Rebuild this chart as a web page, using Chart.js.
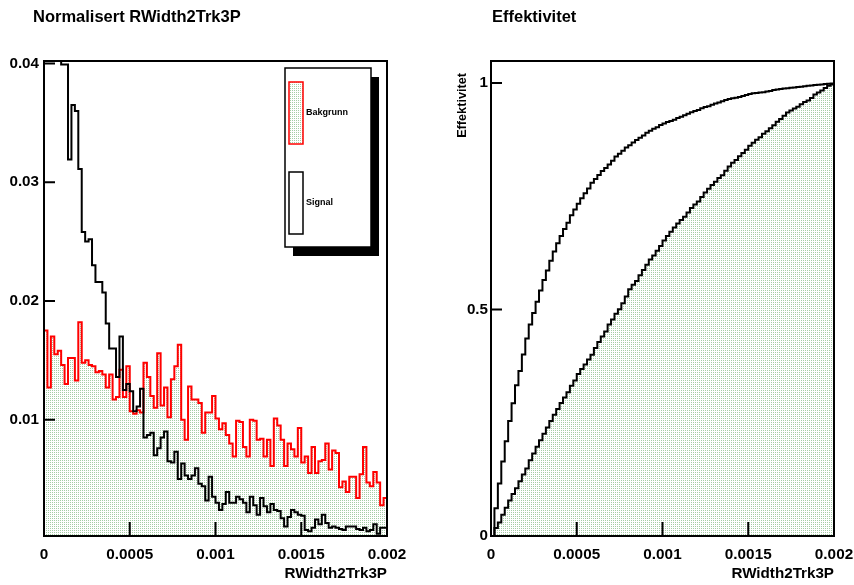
<!DOCTYPE html>
<html>
<head>
<meta charset="utf-8">
<script src="https://cdn.jsdelivr.net/npm/chart.js@4.4.1/dist/chart.umd.min.js"></script>
<style>
  html, body { margin: 0; padding: 0; background: #fff; }
  #wrap { position: relative; width: 854px; height: 585px; }
  .pad { position: absolute; top: 0; width: 427px; height: 585px; }
</style>
</head>
<body>
<div id="wrap">
  <div class="pad" style="left:0"><canvas id="histChart" width="427" height="585"></canvas></div>
  <div class="pad" style="left:427px"><canvas id="effChart" width="427" height="585"></canvas></div>
</div>
<script>
// RWidth2Trk3P, 100 bins from 0 to 0.002 (normalised)
const xMin = 0;
const xMax = 0.002;

const bakgrunn = [
  0.0175, 0.0127, 0.0170, 0.0155, 0.0158, 0.0146, 0.0130, 0.0152, 0.0152, 0.0133,
  0.0182, 0.0148, 0.0150, 0.0146, 0.0145, 0.0140, 0.0141, 0.0138, 0.0127, 0.0138,
  0.0117, 0.0119, 0.0142, 0.0119, 0.0145, 0.0107, 0.0105, 0.0108, 0.0106, 0.0148,
  0.0136, 0.0120, 0.0110, 0.0156, 0.0112, 0.0127, 0.0102, 0.0134, 0.0145, 0.0163,
  0.0100, 0.0083, 0.0128, 0.0117, 0.0117, 0.0114, 0.0089, 0.0106, 0.0106, 0.0120,
  0.0101, 0.0092, 0.0097, 0.0087, 0.0080, 0.0069, 0.0099, 0.0098, 0.0077, 0.0069,
  0.0100, 0.0099, 0.0083, 0.0084, 0.0069, 0.0083, 0.0061, 0.0101, 0.0095, 0.0083,
  0.0061, 0.0080, 0.0075, 0.0069, 0.0093, 0.0064, 0.0069, 0.0055, 0.0077, 0.0055,
  0.0065, 0.0066, 0.0080, 0.0058, 0.0074, 0.0072, 0.0043, 0.0048, 0.0039, 0.0052,
  0.0052, 0.0034, 0.0054, 0.0077, 0.0047, 0.0044, 0.0056, 0.0047, 0.0028, 0.0034
];

const signal = [
  0.0620, 0.0550, 0.0490, 0.0450, 0.0450, 0.0399, 0.0399, 0.0319, 0.0365, 0.0360,
  0.0311, 0.0258, 0.0250, 0.0252, 0.0230, 0.0216, 0.0216, 0.0207, 0.0181, 0.0160,
  0.0160, 0.0136, 0.0170, 0.0125, 0.0130, 0.0124, 0.0107, 0.0111, 0.0126, 0.0085,
  0.0087, 0.0089, 0.0070, 0.0076, 0.0085, 0.0090, 0.0065, 0.0064, 0.0073, 0.0050,
  0.0063, 0.0053, 0.0050, 0.0053, 0.0059, 0.0046, 0.0044, 0.0032, 0.0052, 0.0035,
  0.0030, 0.0024, 0.0029, 0.0039, 0.0030, 0.0030, 0.0035, 0.0033, 0.0030, 0.0022,
  0.0035, 0.0028, 0.0020, 0.0034, 0.0027, 0.0022, 0.0029, 0.0024, 0.0023, 0.0017,
  0.0010, 0.0018, 0.0024, 0.0022, 0.0020, 0.0019, 0.0007, 0.0006, 0.0009, 0.0016,
  0.0012, 0.0020, 0.0013, 0.0009, 0.0010, 0.0009, 0.0008, 0.0007, 0.0010, 0.0010,
  0.0010, 0.0008, 0.0007, 0.0009, 0.0006, 0.0007, 0.0012, 0.0004, 0.0009, 0.0009
];

const xTicks = [0, 0.0005, 0.001, 0.0015, 0.002];
const xTickLabels = ['0', '0.0005', '0.001', '0.0015', '0.002'];
const histYTicks = [0.01, 0.02, 0.03, 0.04];
const histYTickLabels = ['0.01', '0.02', '0.03', '0.04'];
const effYTicks = [0, 0.5, 1];
const effYTickLabels = ['0', '0.5', '1'];

const FONT = '"Liberation Sans", Arial, Helvetica, sans-serif';
Chart.defaults.font.family = FONT;
Chart.defaults.color = '#000';

const binW = (xMax - xMin) / bakgrunn.length;

// histogram outline: one point per lower bin edge, plus closing edge
function histPoints(vals) {
  const pts = vals.map((v, i) => ({ x: xMin + i * binW, y: v }));
  pts.push({ x: xMax, y: vals[vals.length - 1] });
  return pts;
}

// efficiency = fraction of entries below each bin edge
function effPoints(vals) {
  const total = vals.reduce((a, b) => a + b, 0);
  let acc = 0;
  const pts = [];
  vals.forEach((v, i) => {
    pts.push({ x: xMin + i * binW, y: acc / total });
    acc += v;
  });
  pts.push({ x: xMax, y: acc / total });
  return pts;
}

function dotPattern() {
  const c = document.createElement('canvas');
  c.width = 2; c.height = 2;
  const g = c.getContext('2d');
  g.fillStyle = 'rgb(165,205,165)';
  g.fillRect(0, 0, 1, 1);
  return g.createPattern(c, 'repeat');
}
const dots = dotPattern();

// frame box + inward ticks like ROOT
const rootFrame = {
  id: 'rootFrame',
  afterDatasetsDraw(chart, args, opts) {
    const { ctx, chartArea: a, scales } = chart;
    ctx.save();
    ctx.strokeStyle = '#000';
    ctx.lineWidth = 2;
    ctx.beginPath();
    scales.x.ticks.forEach(t => {
      const px = scales.x.getPixelForValue(t.value);
      ctx.moveTo(px, a.bottom);
      ctx.lineTo(px, a.bottom - opts.xTick);
    });
    scales.y.ticks.forEach(t => {
      const py = scales.y.getPixelForValue(t.value);
      ctx.moveTo(a.left, py);
      ctx.lineTo(a.left + opts.yTick, py);
    });
    ctx.stroke();
    ctx.strokeRect(a.left, a.top, a.right - a.left, a.bottom - a.top);
    ctx.restore();
  }
};

// pad title sits at a fixed x, not at the chart's left edge
const titleShift = {
  id: 'titleShift',
  afterLayout(chart, args, o) {
    if (chart.titleBlock) chart.titleBlock.left = o.x;
  }
};

// boxed legend with shadow
const boxLegend = {
  id: 'boxLegend',
  afterDraw(chart, args, o) {
    if (!o.display) return;
    const ctx = chart.ctx;
    ctx.save();
    ctx.fillStyle = '#000';
    ctx.fillRect(o.x + 8, o.y + 9, o.w, o.h);
    ctx.fillStyle = '#fff';
    ctx.fillRect(o.x, o.y, o.w, o.h);
    ctx.lineWidth = 1.5;
    ctx.strokeStyle = '#000';
    ctx.strokeRect(o.x, o.y, o.w, o.h);
    const items = chart.data.datasets.slice().reverse();
    items.forEach((ds, i) => {
      const top = o.y + o.entryTop + i * o.entryStep;
      const left = o.x + 4;
      if (ds.fill) {
        ctx.fillStyle = ds.backgroundColor;
        ctx.fillRect(left, top, o.sw, o.sh);
      }
      ctx.strokeStyle = ds.borderColor;
      ctx.lineWidth = 1.5;
      ctx.strokeRect(left, top, o.sw, o.sh);
      ctx.fillStyle = '#000';
      ctx.font = 'bold 9px ' + FONT;
      ctx.textAlign = 'left';
      ctx.textBaseline = 'middle';
      ctx.fillText(ds.label, left + o.sw + 3, top + o.sh / 2);
    });
    ctx.restore();
  }
};

// rotated y-axis title, right-aligned to the top like ROOT
const yTitle = {
  id: 'yTitle',
  afterDraw(chart, args, o) {
    if (!o.text) return;
    const ctx = chart.ctx;
    ctx.save();
    ctx.translate(o.x, o.y);
    ctx.rotate(-Math.PI / 2);
    ctx.font = 'bold 12.7px ' + FONT;
    ctx.fillStyle = '#000';
    ctx.textAlign = 'right';
    ctx.textBaseline = 'middle';
    ctx.fillText(o.text, 0, 0);
    ctx.restore();
  }
};

function xScale() {
  return {
    type: 'linear',
    min: xMin,
    max: xMax,
    afterBuildTicks: s => { s.ticks = xTicks.map(v => ({ value: v })); },
    afterFit: s => { s.height = 49; s.paddingLeft = 0; s.paddingRight = 0; },
    grid: { display: false, drawTicks: false },
    border: { display: false },
    ticks: {
      callback: (v, i) => xTickLabels[i],
      font: { size: 15.3, weight: 'bold' },
      padding: 10,
      maxRotation: 0,
      autoSkip: false
    },
    title: {
      display: true,
      text: 'RWidth2Trk3P',
      align: 'end',
      font: { size: 15.2, weight: 'bold' },
      padding: { top: 0, bottom: 2 }
    }
  };
}

function yScale(min, max, ticks, labels, width, pad) {
  return {
    type: 'linear',
    min: min,
    max: max,
    afterBuildTicks: s => { s.ticks = ticks.map(v => ({ value: v })); },
    afterFit: s => { s.width = width; s.paddingTop = 0; s.paddingBottom = 0; },
    grid: { display: false, drawTicks: false },
    border: { display: false },
    ticks: {
      callback: (v, i) => labels[i],
      font: { size: 15.2, weight: 'bold' },
      padding: pad,
      autoSkip: false
    }
  };
}

function titleOpts(text) {
  return {
    display: true,
    text: text,
    align: 'start',
    font: { size: 16.5, weight: 'bold' },
    color: '#000',
    padding: { top: 8, bottom: 33.2 }
  };
}

new Chart(document.getElementById('histChart'), {
  type: 'line',
  data: {
    datasets: [{
      label: 'Signal',
      data: histPoints(signal),
      borderColor: '#000',
      borderWidth: 2,
      stepped: 'before',
      pointRadius: 0,
      fill: false
    }, {
      label: 'Bakgrunn',
      data: histPoints(bakgrunn),
      borderColor: '#ff0000',
      backgroundColor: dots,
      borderWidth: 2,
      stepped: 'before',
      pointRadius: 0,
      fill: 'start'
    }]
  },
  options: {
    responsive: false,
    animation: false,
    events: [],
    layout: { padding: { left: 0, right: 40, top: 0, bottom: 0 } },
    scales: {
      x: xScale(),
      y: yScale(0.0002, 0.0402, histYTicks, histYTickLabels, 44, 5)
    },
    plugins: {
      legend: { display: false },
      tooltip: { enabled: false },
      title: titleOpts('Normalisert RWidth2Trk3P'),
      titleShift: { x: 33 },
      rootFrame: { xTick: 14, yTick: 11 },
      boxLegend: { display: true, x: 285, y: 68, w: 86, h: 179, entryTop: 14, entryStep: 90, sw: 14, sh: 62 }
    }
  },
  plugins: [rootFrame, titleShift, boxLegend]
});

new Chart(document.getElementById('effChart'), {
  type: 'line',
  data: {
    datasets: [{
      label: 'Signal',
      data: effPoints(signal),
      borderColor: '#000',
      borderWidth: 2,
      stepped: 'before',
      pointRadius: 0,
      fill: false
    }, {
      label: 'Bakgrunn',
      data: effPoints(bakgrunn),
      borderColor: '#000',
      backgroundColor: dots,
      borderWidth: 2,
      stepped: 'before',
      pointRadius: 0,
      fill: 'start'
    }]
  },
  options: {
    responsive: false,
    animation: false,
    events: [],
    layout: { padding: { left: 0, right: 20, top: 0, bottom: 0 } },
    scales: {
      x: xScale(),
      y: yScale(0, 1.0486, effYTicks, effYTickLabels, 64, 3)
    },
    plugins: {
      legend: { display: false },
      tooltip: { enabled: false },
      title: titleOpts('Effektivitet'),
      titleShift: { x: 65 },
      rootFrame: { xTick: 14, yTick: 11 },
      yTitle: { text: 'Effektivitet', x: 35, y: 73 }
    }
  },
  plugins: [rootFrame, titleShift, yTitle]
});
</script>
</body>
</html>
